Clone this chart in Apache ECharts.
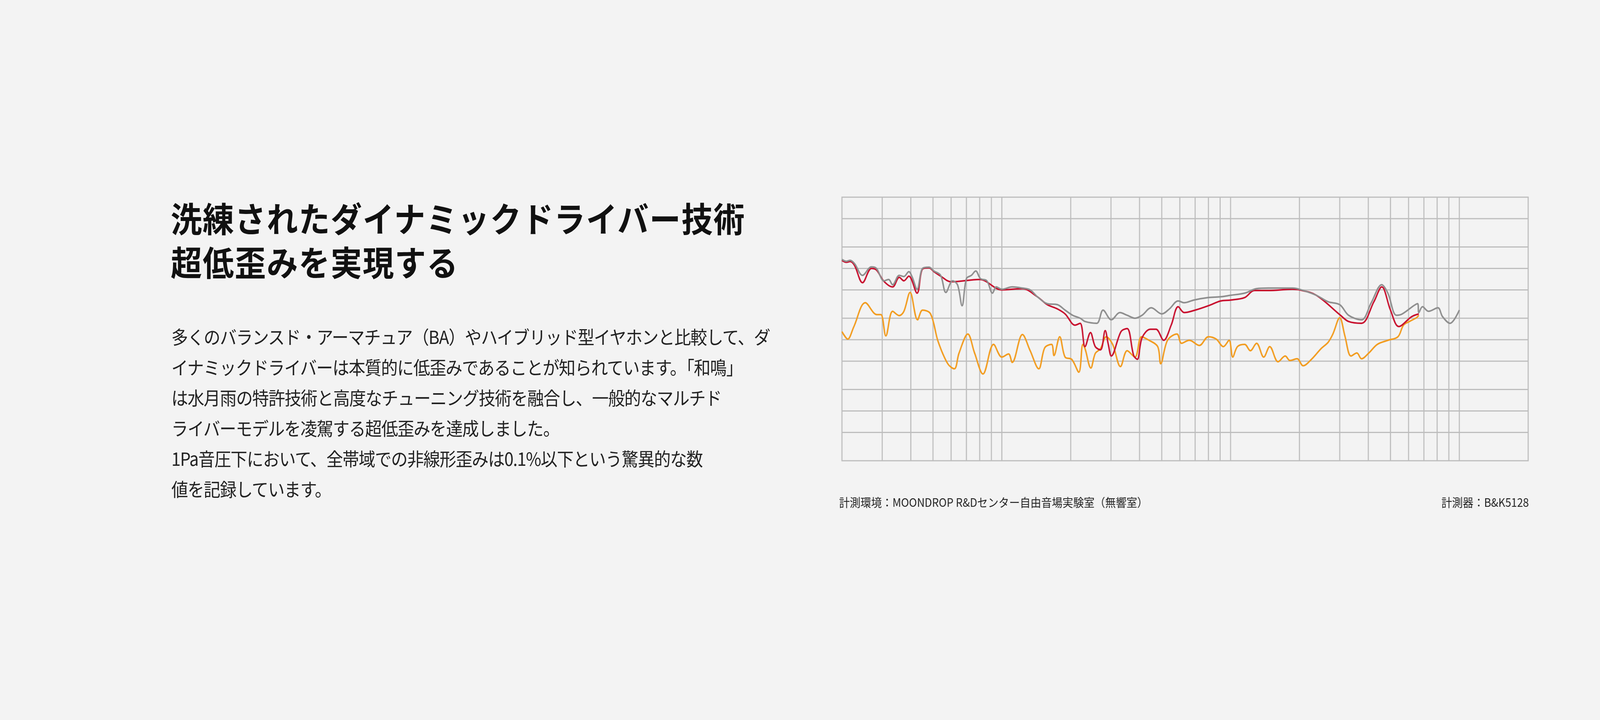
<!DOCTYPE html>
<html><head><meta charset="utf-8">
<script src="https://cdn.jsdelivr.net/npm/echarts@6/dist/echarts.min.js"></script>
<style>
html,body{margin:0;padding:0;background:#f3f3f3;overflow:hidden;font-family:"Noto Sans CJK JP","Noto Sans",sans-serif;}
#wrap{position:absolute;left:0;top:0;width:4500px;height:1844px;transform-origin:0 0;background:#f3f3f3;}
#chart{position:absolute;left:0;top:0;width:4500px;height:1844px;}
.title{position:absolute;left:480px;top:500px;font-size:88px;font-weight:700;line-height:112px;color:#111;letter-spacing:2px;white-space:nowrap;}
.body{position:absolute;left:482px;top:822px;font-size:47px;line-height:78px;color:#222;letter-spacing:-1.5px;white-space:nowrap;}
</style></head><body>
<div id="wrap">
<div id="chart"></div>
<div class="title">洗練されたダイナミックドライバー技術<br>超低歪みを実現する</div>
<div class="body">多くのバランスド・アーマチュア（BA）やハイブリッド型イヤホンと比較して、ダ<br>イナミックドライバーは本質的に低歪みであることが知られています。「和鳴」<br>は水月雨の特許技術と高度なチューニング技術を融合し、一般的なマルチド<br>ライバーモデルを凌駕する超低歪みを達成しました。<br>1Pa音圧下において、全帯域での非線形歪みは0.1%以下という驚異的な数<br>値を記録しています。</div>
</div>
<script>
const grayFreq=[20,20.9,21.7,22.7,24.6,26.9,28.3,30.5,32,33.3,35.6,37.3,39.2,40.6,42.6,45,48,50.5,54,56.9,60.9,64,67,70,73.6,76.9,80.6,86,91,94.5,100,111,123,133,143,158,175,189,204,220,231,260,277,301,328,353,382,410,450,500,540,590,627,691,800,906,1000,1152,1299,1466,1863,2000,2370,2670,3000,3280,3735,4120,4580,4870,5310,5630,6570,6650,6900,7330,8060,8450,9100,10000];
const grayVal=[0.134,0.126,0.13,0.117,0.08,0.105,0.1,0.067,0.07,0.059,0.08,0.077,0.09,0.075,0.051,0.1,0.104,0.092,0.08,0.046,0.067,0.059,0.03,0.072,0.08,0.092,0.072,0.067,0.045,0.055,0.051,0.055,0.053,0.05,0.04,0.032,0.031,0.026,0.022,0.02,0.018,0.017,0.026,0.019,0.024,0.022,0.02,0.022,0.028,0.023,0.027,0.035,0.033,0.036,0.039,0.04,0.042,0.045,0.052,0.053,0.053,0.051,0.042,0.034,0.031,0.022,0.019,0.033,0.059,0.045,0.022,0.023,0.032,0.024,0.029,0.025,0.028,0.021,0.017,0.026];
const redFreq=[20,20.9,21.7,22.7,24.6,26.9,28.3,30.5,33.3,35.6,37.3,39.2,42.6,45,48,50.5,54,60,80,100,123,143,158,175,189,209,220,231,244,256,270,283,292,301,332,353,377,391,410,446,472,510,550,590,627,700,800,906,1000,1152,1270,1466,1863,2000,2370,3022,3280,3735,4230,4580,5000,5440,6180,6650];
const redVal=[0.13,0.122,0.125,0.11,0.063,0.1,0.095,0.066,0.055,0.075,0.067,0.078,0.045,0.098,0.102,0.09,0.078,0.065,0.07,0.05,0.052,0.04,0.031,0.027,0.023,0.016,0.017,0.008,0.0126,0.008,0.0072,0.0134,0.0086,0.0059,0.013,0.0143,0.006,0.0053,0.0106,0.014,0.014,0.0098,0.016,0.029,0.024,0.026,0.03,0.035,0.036,0.039,0.049,0.049,0.051,0.05,0.042,0.022,0.018,0.017,0.034,0.055,0.026,0.0153,0.021,0.023];
const orangeFreq=[20,21.2,22.5,25.3,28.4,29.6,31.1,33.3,35.6,37.3,39.7,42.8,45,48.8,52.6,58,62,65,71,76,82.7,92,100,107,111,123,133,145,154,165,169,179,189,202,217,226,231,245,256,270,286,305,330,353,382,408,440,480,495,530,583,610,660,730,800,865,930,985,1022,1072,1152,1220,1299,1396,1483,1613,1733,1818,1953,2076,2257,2488,2670,2800,3000,3160,3360,3565,3735,4020,4380,4870,5390,5700,6050,6490,6650];
const orangeVal=[0.013,0.0102,0.015,0.033,0.0225,0.0225,0.0113,0.025,0.0218,0.025,0.046,0.019,0.026,0.023,0.0095,0.0046,0.0039,0.0065,0.012,0.0065,0.0033,0.0086,0.0057,0.0063,0.0048,0.0118,0.007,0.0039,0.0077,0.0086,0.006,0.011,0.0057,0.0053,0.0035,0.0086,0.0075,0.004,0.0064,0.0075,0.011,0.0086,0.0042,0.007,0.0057,0.011,0.0098,0.008,0.0046,0.0098,0.012,0.0089,0.0098,0.0083,0.011,0.0102,0.008,0.0098,0.0057,0.008,0.0086,0.007,0.0089,0.0057,0.008,0.0049,0.0059,0.0051,0.0054,0.0043,0.0053,0.0075,0.0092,0.012,0.0203,0.0113,0.0059,0.0065,0.0054,0.0065,0.0086,0.0098,0.011,0.016,0.018,0.0203,0.022];
const yTicks=[0.5,0.2,0.1,0.05,0.02,0.01,0.005,0.002,0.001,0.0005];
const yTickLabels=['0.5','0.2','0.1','0.05','0.02','0.01','0.005','0.002','0.001','0.005'];
const xGrid=[30,40,50,60,70,80,90,100,200,300,400,500,600,700,800,900,1000,2000,3000,4000,5000,6000,7000,8000,9000,10000];
const xTickVals=[20,100,1000,10000,20000];
const xTickLabels=['20','100','1k','10k','20 kHz'];

const X0=20,X1=20000,Y0=0.0002,Y1=1;
const sc=Math.min(window.innerWidth/4500,1), scy=Math.min(window.innerHeight/1844,1);
document.getElementById('wrap').style.transform='scale('+sc+','+scy+')';

const zip=(a,b)=>a.map((f,i)=>[f,b[i]]);
const gridColor='#bdbdbd';
const gl={color:gridColor,width:3};
const gridSeries=[];
yTicks.forEach((v,i)=>gridSeries.push({type:'line',silent:true,z:1,symbol:'circle',symbolSize:0.01,showSymbol:true,itemStyle:{opacity:0},lineStyle:gl,
  data:[{value:[X0,v],label:{show:true,position:'left',distance:6,formatter:yTickLabels[i],fontSize:28,color:'#222',fontFamily:'Roboto'}},{value:[X1,v],label:{show:false}}]}));
xGrid.forEach(v=>gridSeries.push({type:'line',silent:true,z:1,showSymbol:false,lineStyle:gl,data:[[v,Y0],[v,Y1]]}));
xTickVals.forEach((v,i)=>gridSeries.push({type:'line',silent:true,z:1,symbol:'circle',symbolSize:0.01,showSymbol:true,itemStyle:{opacity:0},lineStyle:{opacity:0},
  data:[{value:[v,Y0],label:{show:true,position:'bottom',distance:14,formatter:xTickLabels[i],fontSize:39,color:'#222',fontFamily:'Roboto',offset:v===X1?[-40,0]:[0,0]}}]}));

const chart=echarts.init(document.getElementById('chart'),null,{renderer:'canvas'});
const ser=(name,f,v,color)=>({name,type:'line',data:zip(f,v),showSymbol:false,smooth:0.35,lineStyle:{color,width:4},z:5,silent:true});
chart.setOption({
  backgroundColor:'#f3f3f3',animation:false,
  grid:{left:2368,top:505,width:1930,height:675,show:true,borderColor:gridColor,borderWidth:3,backgroundColor:'transparent'},
  xAxis:{type:'log',logBase:10,min:X0,max:X1,axisLine:{show:false},axisTick:{show:false},axisLabel:{show:false},splitLine:{show:false},minorSplitLine:{show:false}},
  yAxis:{type:'log',logBase:10,min:Y0,max:Y1,axisLine:{show:false},axisTick:{show:false},axisLabel:{show:false},splitLine:{show:false}},
  graphic:[
    {type:'text',left:2360,top:1272,style:{text:'計測環境：MOONDROP R&Dセンター自由音場実験室（無響室）',fontSize:30,fill:'#222',fontFamily:'Noto Sans CJK JP'}},
    {type:'text',right:200,top:1272,style:{text:'計測器：B&K5128',fontSize:30,fill:'#222',fontFamily:'Noto Sans CJK JP'}}
  ],
  series:gridSeries.concat([
    ser('orange',orangeFreq,orangeVal,'#f29c1f'),
    ser('red',redFreq,redVal,'#c8102e'),
    ser('gray',grayFreq,grayVal,'#8e8e8e')
  ])
});
</script></body></html>
